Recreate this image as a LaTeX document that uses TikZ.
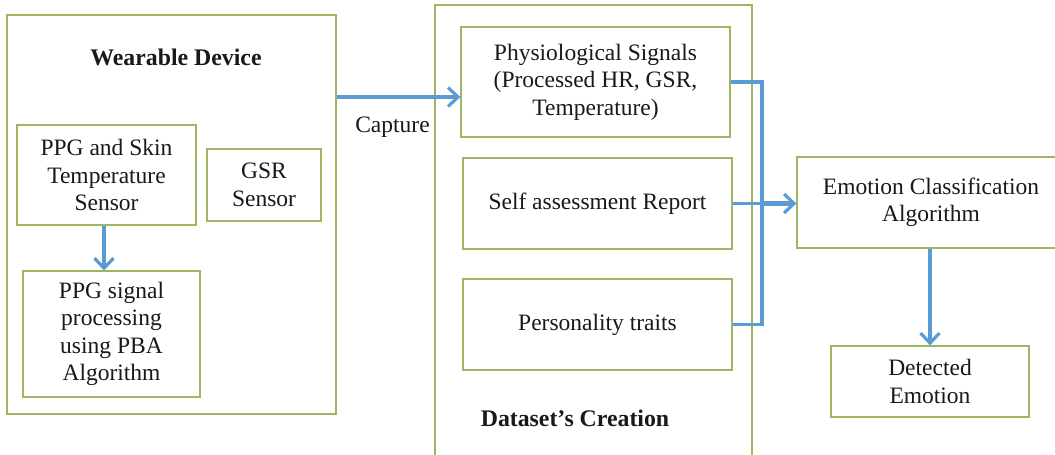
\documentclass[tikz,border=0pt]{standalone}
\usepackage{fontspec}
\setmainfont{Liberation Serif}
\usetikzlibrary{arrows.meta}
\definecolor{boxline}{RGB}{158,182,98}
\definecolor{flow}{RGB}{91,155,213}
\definecolor{ink}{RGB}{25,25,25}
\tikzset{
  box/.style={draw=boxline, line width=1.3pt, align=center, inner sep=0pt,
              text=ink, font=\fontsize{23.5}{27.5}\selectfont},
  title/.style={text=ink, font=\fontsize{23.8}{27.5}\selectfont\bfseries},
  plain/.style={text=ink, font=\fontsize{23.5}{27.5}\selectfont},
  flowline/.style={draw=flow, line width=3.2pt},
  flowarrow/.style={flowline, -{Straight Barb[length=10pt, width=19pt, line width=3.2pt]}},
}
\begin{document}
\begin{tikzpicture}[x=1pt, y=-1pt]
\useasboundingbox (0,0) rectangle (1055,455);
\clip (0,0) rectangle (1055,455);
\fill[white] (0,0) rectangle (1055,455);

% Wearable device and its sensors
\node[box, minimum width=329pt, minimum height=399pt] (wear) at (171.5,214.5) {};
\node[title] (weartitle) at (176,57) {Wearable Device};
\node[box, minimum width=179pt, minimum height=100pt] (ppg) at (106.5,175) {PPG and Skin\\Temperature\\Sensor};
\node[box, minimum width=114pt, minimum height=72pt] (gsr) at (264,185) {GSR\\Sensor};
\node[box, minimum width=177pt, minimum height=126pt] (pba) at (111.5,334) {PPG signal\\processing\\using PBA\\Algorithm};

% Dataset creation
\node[box, minimum width=317pt, minimum height=480pt] (data) at (593.5,245) {};
\node[box, minimum width=269pt, minimum height=110pt] (phys) at (595.5,82) {Physiological Signals\\(Processed HR, GSR,\\Temperature)};
\node[box, minimum width=269pt, minimum height=91pt] (self) at (597.5,203.5) {Self assessment Report};
\node[box, minimum width=269pt, minimum height=91pt] (pers) at (597.5,324.5) {Personality traits};
\node[title] (datatitle) at (575,418) {Dataset's Creation};

% Classification and result
\node[box, minimum width=268pt, minimum height=91pt] (emo) at (931,202.5) {Emotion Classification\\Algorithm};
\node[box, minimum width=198pt, minimum height=71pt] (det) at (930,381.5) {Detected\\Emotion};

% Capture link
\coordinate (caprow) at (0,97);
\draw[flowarrow] (wear.east |- caprow) -- (phys.west |- caprow);
\node[plain] (caplabel) at (392.5,127) {Capture};

% Inner flow of the wearable device
\draw[flowarrow] (104,225.5) -- (104,270.5);

% Dataset outputs merge into the classifier
\coordinate (bus) at (762,0);
\draw[flowline] (phys.east) -- (bus |- phys.east) -- (bus |- pers.east) -- (pers.east);
\draw[flowline] (self.east) -- (bus |- self.east);
\draw[flowarrow, line width=5pt] (bus |- self.east) -- (emo.west |- self.east);

% Classifier output
\draw[flowarrow] (emo.south -| det.north) -- (det.north);
\end{tikzpicture}
\end{document}
